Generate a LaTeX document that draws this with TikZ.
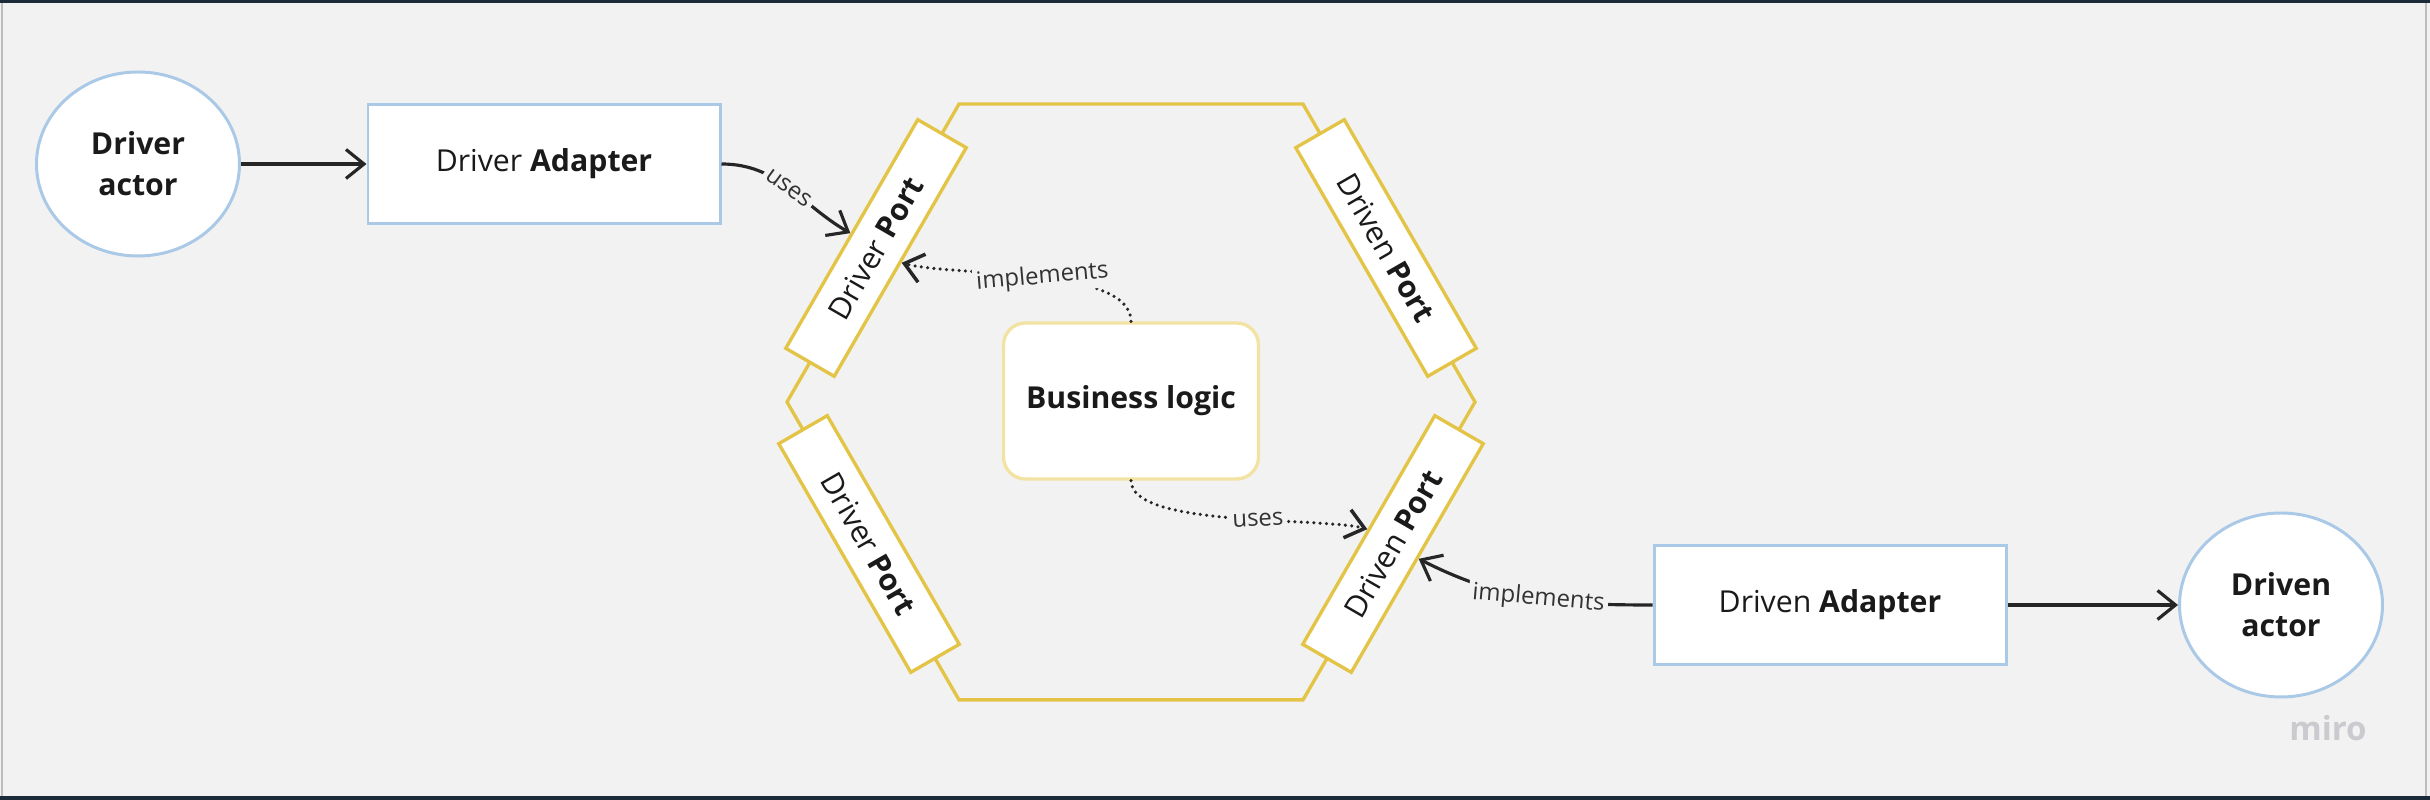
\documentclass[tikz,border=0pt]{standalone}
\usepackage{fontspec}
\setmainfont{Open Sans}
\usepackage{xcolor}
\usetikzlibrary{arrows.meta}
\usetikzlibrary{shapes.geometric}
\usetikzlibrary{calc}

\definecolor{bgcol}{HTML}{F2F2F2}
\definecolor{framecol}{HTML}{1C2B3A}
\definecolor{edgecol}{HTML}{BDBDBD}
\definecolor{bluecol}{HTML}{A9C9E7}
\definecolor{hexcol}{HTML}{E3C447}
\definecolor{logiccol}{HTML}{F2E3A2}
\definecolor{inkcol}{HTML}{1A1A1A}
\definecolor{linecol}{HTML}{262626}
\definecolor{labelcol}{HTML}{333333}
\definecolor{mirocol}{HTML}{CACACF}

\begin{document}
\begin{tikzpicture}[>={Straight Barb[length=1.8mm,width=2.9mm]},
  actor/.style={ellipse, draw=bluecol, line width=0.85pt, fill=white, text=inkcol,
    minimum width=2.03cm, minimum height=1.84cm, inner sep=0pt, align=center,
    font=\fontsize{8.6}{11.7}\selectfont\bfseries},
  adapter/.style={rectangle, draw=bluecol, line width=0.85pt, fill=white, text=inkcol,
    minimum width=3.52cm, minimum height=1.19cm, font=\fontsize{8.6}{11}\selectfont},
  port/.style={rectangle, draw=hexcol, line width=0.95pt, fill=white, text=inkcol,
    minimum width=2.64cm, minimum height=0.56cm, inner sep=0pt,
    font=\fontsize{8.6}{11}\selectfont},
  logic/.style={rectangle, rounded corners=0.22cm, draw=logiccol, line width=0.95pt,
    fill=white, text=inkcol, minimum width=2.55cm, minimum height=1.56cm,
    font=\fontsize{8.6}{11}\selectfont\bfseries},
  conn/.style={draw=linecol, line width=0.9pt},
  dotconn/.style={conn, line width=1pt, line cap=round, dash pattern=on 0pt off 1.8pt},
  lbl/.style={fill=bgcol, inner sep=1pt, text=labelcol, font=\fontsize{6.8}{8}\selectfont}]

%frame
\fill[bgcol] (0,0) rectangle (24.3,8);
\fill[framecol] (0,7.97) rectangle (24.3,8);
\fill[framecol] (0,0) rectangle (24.3,0.04);
\draw[edgecol, line width=0.6pt] (0.02,0.04) -- (0.02,7.97);
\draw[edgecol, line width=0.6pt] (24.26,0.04) -- (24.26,7.97);

%driver side
\node[actor] (drvactor) at (1.38,6.36) {Driver\\actor};
\node[adapter] (drvadapter) at (5.44,6.36) {Driver \textbf{Adapter}};

%hexagon
\begin{scope}[shift={(11.31,3.98)}]
  \draw[hexcol, line width=0.95pt] (0:3.44) \foreach \a in {60,120,...,300} { -- (\a:3.44) } -- cycle;
  \node[port, rotate=60] (drvport) at (-2.55,1.54) {Driver \textbf{Port}};
  \node[port, rotate=-60] (drnport) at (2.55,1.54) {Driven \textbf{Port}};
  \node[port, rotate=-60] (drvport2) at (-2.62,-1.42) {Driver \textbf{Port}};
  \node[port, rotate=60] (drnport2) at (2.62,-1.42) {Driven \textbf{Port}};
  \node[logic] (logic) at (0,0.01) {Business logic};
\end{scope}

%driven side
\node[adapter] (drnadapter) at (18.30,1.95) {Driven \textbf{Adapter}};
\node[actor] (drnactor) at (22.81,1.95) {Driven\\actor};

\node[text=mirocol, font=\fontsize{9.4}{10}\selectfont\bfseries] (miro) at (23.28,0.72) {miro};

%connectors
\draw[conn,->] (drvactor) -- (drvadapter);
\draw[conn,->] (drvadapter.east) to[out=0,in=150] node[lbl, sloped] {uses} (drvport.north);
\draw[dotconn,->] (logic.north) to[out=90,in=-15,looseness=0.6]
  node[lbl, pos=0.48, rotate=5] {implements} (drvport.south);
\draw[dotconn,->] (logic.south) to[out=-90,in=165,looseness=0.5]
  node[lbl, pos=0.58, rotate=3] {uses} (drnport2.north);
\draw[conn,->] (drnadapter.west) to[out=180,in=-27]
  node[lbl, pos=0.47, rotate=-5] {implements} (drnport2.south);
\draw[conn,->] (drnadapter) -- (drnactor);
\end{tikzpicture}
\end{document}
